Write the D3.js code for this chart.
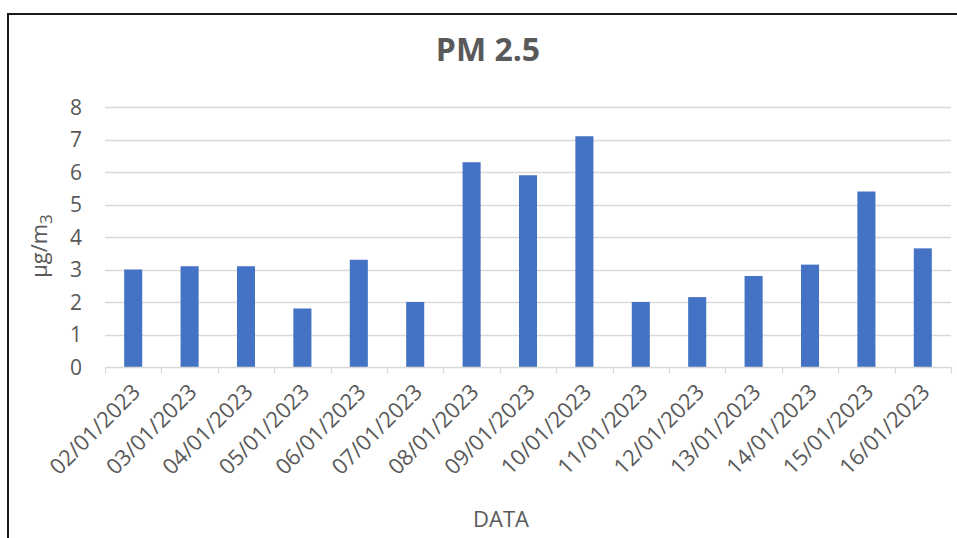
<!DOCTYPE html>
<html>
<head>
<meta charset="utf-8">
<script src="https://cdn.jsdelivr.net/npm/d3@7"></script>
<style>
  html, body { margin: 0; padding: 0; background: #fff; }
  svg { display: block; }
  text { font-family: "Open Sans", "Liberation Sans", sans-serif; }
</style>
</head>
<body>
<svg id="chart" width="957" height="538"></svg>
<script>
const categories = ["02/01/2023","03/01/2023","04/01/2023","05/01/2023","06/01/2023",
  "07/01/2023","08/01/2023","09/01/2023","10/01/2023","11/01/2023","12/01/2023",
  "13/01/2023","14/01/2023","15/01/2023","16/01/2023"];
const values = [3.0, 3.1, 3.1, 1.8, 3.3, 2.0, 6.3, 5.9, 7.1, 2.0, 2.15, 2.8, 3.15, 5.4, 3.65];
const yTicks = [0, 1, 2, 3, 4, 5, 6, 7, 8];
const title = "PM 2.5";
const xTitle = "DATA";

const svg = d3.select("#chart");
const W = 957, H = 538;
const plot = { left: 105, right: 951, top: 107, bottom: 367 };
const textColor = "#595959";
const gridColor = "#d9d9d9";

svg.append("rect").attr("width", W).attr("height", H).attr("fill", "#fff");

// outer border (left and top visible)
svg.append("path")
  .attr("d", `M8,${H} L8,14 L${W},14`)
  .attr("fill", "none").attr("stroke", "#1a1a1a").attr("stroke-width", 2);

const x = d3.scaleBand().domain(categories).range([plot.left, plot.right]).padding(0);
const y = d3.scaleLinear().domain([0, 8]).range([plot.bottom, plot.top]);
const barFrac = 0.32;

// gridlines
svg.append("g").selectAll("line").data(yTicks.filter(t => t > 0)).join("line")
  .attr("x1", plot.left).attr("x2", plot.right)
  .attr("y1", d => Math.round(y(d)) + 0.5).attr("y2", d => Math.round(y(d)) + 0.5)
  .attr("stroke", gridColor).attr("stroke-width", 1.3);

// y tick labels
svg.append("g").selectAll("text").data(yTicks).join("text")
  .attr("x", 82).attr("y", d => y(d)).attr("dy", "0.36em")
  .attr("text-anchor", "end").attr("fill", textColor)
  .style("font-size", "21px").text(d => d);

// bars
svg.append("g").selectAll("rect").data(values).join("rect")
  .attr("x", (d, i) => x(categories[i]) + x.bandwidth() * (1 - barFrac) / 2)
  .attr("width", x.bandwidth() * barFrac)
  .attr("y", d => y(d))
  .attr("height", d => y(0) - y(d))
  .attr("fill", "#4472c4");

// x axis line and tick marks at band boundaries
const bottomY = Math.round(y(0)) + 0.5;
svg.append("line").attr("x1", plot.left).attr("x2", plot.right)
  .attr("y1", bottomY).attr("y2", bottomY)
  .attr("stroke", gridColor).attr("stroke-width", 1.3);
const boundaries = categories.map(c => x(c)).concat([x(categories[categories.length - 1]) + x.step()]);
svg.append("g").selectAll("line").data(boundaries).join("line")
  .attr("x1", d => Math.round(d) + 0.5).attr("x2", d => Math.round(d) + 0.5)
  .attr("y1", bottomY).attr("y2", bottomY + 6)
  .attr("stroke", gridColor).attr("stroke-width", 1.3);

// x tick labels rotated
svg.append("g").selectAll("text").data(categories).join("text")
  .attr("transform", d => `translate(${x(d) + x.bandwidth() / 2 + 3},${plot.bottom + 21}) rotate(-45)`)
  .attr("text-anchor", "end").attr("dy", "0.35em")
  .attr("fill", textColor).style("font-size", "22px")
  .text(d => d);

// title
svg.append("text").attr("x", 488).attr("y", 61)
  .attr("text-anchor", "middle").attr("fill", textColor)
  .style("font-size", "32px").style("font-weight", "bold")
  .text(title);

// x axis title
svg.append("text").attr("x", 501).attr("y", 527)
  .attr("text-anchor", "middle").attr("fill", textColor)
  .style("font-size", "22px").text(xTitle);

// y axis title with subscript
const yt = svg.append("text")
  .attr("transform", `translate(47,246) rotate(-90)`)
  .attr("text-anchor", "middle").attr("fill", textColor)
  .style("font-size", "22px");
yt.append("tspan").text("µg/m");
yt.append("tspan").attr("dy", "0.3em").style("font-size", "17px").text("3");
</script>
</body>
</html>
